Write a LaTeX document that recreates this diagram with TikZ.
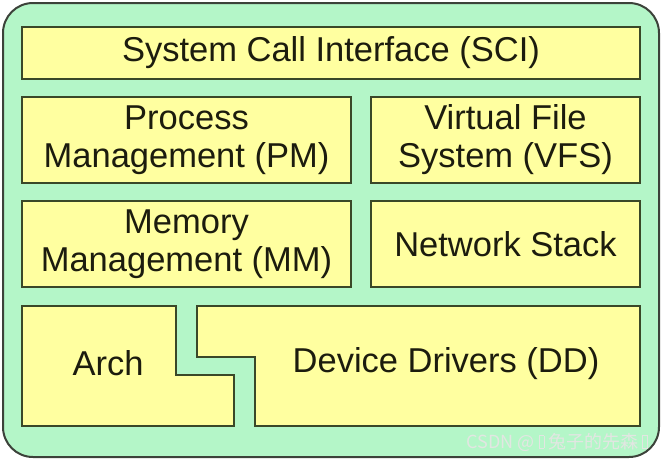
\documentclass[tikz,border=0pt]{standalone}
\usepackage{fontspec}
\setmainfont{Liberation Sans}
\newfontfamily\cjkfont{Noto Sans CJK SC}
\definecolor{outerfill}{RGB}{180,246,200}
\definecolor{outerline}{RGB}{60,66,58}
\definecolor{boxfill}{RGB}{255,255,160}
\definecolor{boxline}{RGB}{58,72,40}
\definecolor{txt}{RGB}{28,28,14}
\definecolor{wm}{RGB}{226,230,226}
\newcommand{\tofubox}{{\setlength{\fboxsep}{0pt}\setlength{\fboxrule}{0.7pt}\fbox{\phantom{\rule{4pt}{12pt}}}}}
\begin{document}
\begin{tikzpicture}[x=1pt,y=-1pt,
  boxshape/.style={draw=boxline,fill=boxfill,line width=2.2pt},
  box/.style={boxshape,rectangle,inner sep=0pt,text=txt,align=center,
    font=\fontsize{34.5}{38}\selectfont},
  lbl/.style={text=txt,inner sep=0pt,align=center,font=\fontsize{34.5}{38}\selectfont}]
\useasboundingbox (0,0) rectangle (662,459);
\draw[fill=outerfill,draw=outerline,line width=2pt,rounded corners=30pt] (3,3) rectangle (659,457);
\node[box,minimum width=618pt,minimum height=52pt] (sci) at (331,53) {System Call Interface (SCI)};
\node[box,minimum width=329pt,minimum height=86pt] (pm) at (186.5,140) {\raisebox{-2pt}{Process}\\\raisebox{-2pt}{Management (PM)}};
\node[box,minimum width=269pt,minimum height=86pt] (vfs) at (505.5,140) {\raisebox{-2pt}{Virtual File}\\\raisebox{-2pt}{System (VFS)}};
\node[box,minimum width=329pt,minimum height=86pt] (mm) at (186.5,244) {\raisebox{-1pt}{Memory}\\\raisebox{-1pt}{Management (MM)}};
\node[box,minimum width=269pt,minimum height=86pt] (net) at (505.5,244) {\raisebox{-1pt}{Network Stack}};
\draw[boxshape] (22,306) -- (176,306) -- (176,375) -- (234,375) -- (234,426) -- (22,426) -- cycle;
\draw[boxshape] (197,306) -- (640,306) -- (640,426) -- (255,426) -- (255,357) -- (197,357) -- cycle;
\node[lbl] (arch) at (108,363.5) {Arch};
\node[lbl] (dd) at (446,363.5) {Device Drivers (DD)};
\node[anchor=base east,inner sep=0pt,text=wm,font=\cjkfont\fontsize{18}{20}\selectfont] (mark) at (648,448) {CSDN @ \tofubox{} 兔子的先森 \tofubox};
\end{tikzpicture}
\end{document}
